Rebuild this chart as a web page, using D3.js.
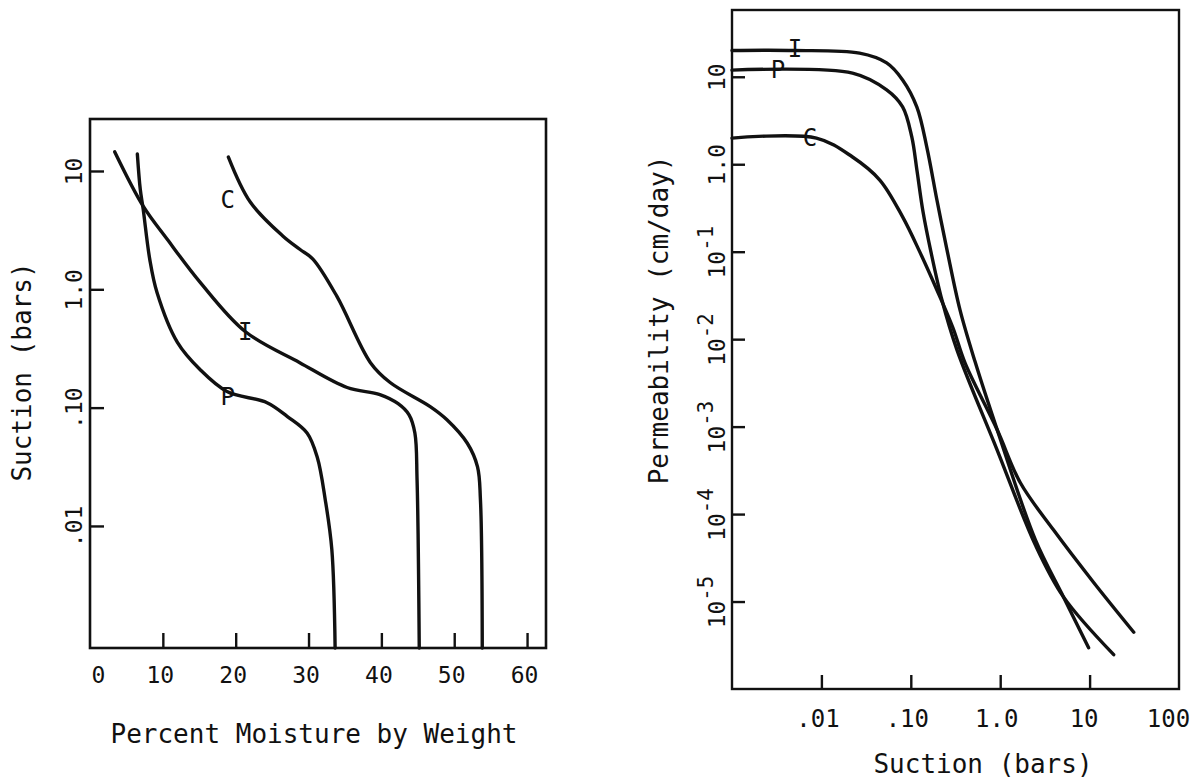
<!DOCTYPE html>
<html><head><meta charset="utf-8">
<script src="https://cdn.jsdelivr.net/npm/d3@7"></script>
<style>
html,body{margin:0;padding:0;background:#fff;}
svg{display:block;}
text{font-family:"DejaVu Sans Mono","Liberation Mono",monospace;fill:#111;}
</style></head><body>
<svg id="chart" width="1197" height="782"></svg>
<script>
// ---------- Left panel data: Suction (bars) vs Percent moisture by weight ----------
const leftXTicks = [0, 10, 20, 30, 40, 50, 60];
const leftXTickLabels = ["0", "10", "20", "30", "40", "50", "60"];
const leftYTicks = [10, 1, 0.1, 0.01];
const leftYTickLabels = ["10", "1.0", ".10", ".01"];

const moistureP = [6.5, 6.9, 7.3, 8.2, 9.2, 12.0, 15.1, 18.8, 24.3, 27.1, 29.8, 31.2, 32.3, 33.2, 33.65];
const suctionP  = [13.9, 7.0, 4.76, 1.8, 0.94, 0.356, 0.21, 0.137, 0.11, 0.084, 0.061, 0.038, 0.0166, 0.0063, 0.00093];

const moistureI = [3.4, 7.3, 10.6, 15.1, 21.3, 28.8, 35.3, 39.8, 42.3, 43.8, 44.6, 44.9, 45.2];
const suctionI  = [14.5, 5.05, 2.65, 1.15, 0.44, 0.24, 0.148, 0.129, 0.108, 0.087, 0.061, 0.0245, 0.00093];

const moistureC = [19.0, 22.0, 26.5, 28.8, 30.6, 33.9, 38.5, 41.2, 46.7, 49.0, 51.8, 53.2, 53.6, 53.85];
const suctionC  = [13.1, 5.46, 2.81, 2.18, 1.8, 0.87, 0.24, 0.163, 0.102, 0.079, 0.05, 0.0316, 0.0166, 0.00093];

const leftLabelNames = ["C", "I", "P"];
const leftLabelMoisture = [18.9, 21.3, 18.9];
const leftLabelSuction = [5.7, 0.436, 0.123];

// ---------- Right panel data: Permeability (cm/day) vs Suction (bars) ----------
const rightXTicks = [0.01, 0.1, 1, 10, 100];
const rightXTickLabels = [".01", ".10", "1.0", "10", "100"];
const rightYTicks = [10, 1, 0.1, 0.01, 0.001, 0.0001, 0.00001];
const rightYTickBase = ["10", "1.0", "10", "10", "10", "10", "10"];
const rightYTickExp = ["", "", "-1", "-2", "-3", "-4", "-5"];

const suctionRI = [0.001, 0.005, 0.0267, 0.0537, 0.081, 0.117, 0.151, 0.196, 0.254, 0.355, 0.524, 0.925, 2.47, 5.1, 9.75];
const permRI    = [20, 20, 18.6, 14.4, 9.2, 4.5, 1.57, 0.39, 0.105, 0.0216, 0.0055, 0.00092, 0.000051, 0.0000113, 0.00000296];

const suctionRP = [0.001, 0.0223, 0.0537, 0.081, 0.1026, 0.117, 0.137, 0.168, 0.223, 0.329, 0.925, 2.47, 5.1, 18.6];
const permRP    = [11.9, 11.0, 7.07, 4.52, 2.05, 0.86, 0.286, 0.0995, 0.028, 0.0075, 0.00054, 0.0000445, 0.0000113, 0.00000247];

const suctionRC = [0.001, 0.0088, 0.0223, 0.045, 0.081, 0.126, 0.196, 0.296, 0.404, 0.925, 1.68, 3.94, 11.1, 31.2];
const permRC    = [1.99, 1.99, 1.21, 0.66, 0.25, 0.0995, 0.0365, 0.0135, 0.00535, 0.00092, 0.000228, 0.000066, 0.0000165, 0.00000445];

const rightLabelNames = ["I", "P", "C"];
const rightLabelSuction = [0.00507, 0.00327, 0.00746];
const rightLabelPerm = [21, 12.0, 2.0];

// ---------- drawing ----------
const ink = "#111";
const svg = d3.select("#chart");
const zip = (a, b) => a.map((v, i) => [v, b[i]]);

// ===== Left panel =====
const L = {left: 90, right: 546, top: 119, bottom: 648};
const xL = d3.scaleLinear().domain([0, 62.6]).range([L.left, L.right]);
const yL = d3.scaleLog().domain([0.00093, 27.5]).range([L.bottom, L.top]);

svg.append("rect").attr("x", L.left).attr("y", L.top)
  .attr("width", L.right - L.left).attr("height", L.bottom - L.top)
  .attr("fill", "none").attr("stroke", ink).attr("stroke-width", 2.6);

const gxL = svg.append("g").attr("transform", `translate(0,${L.bottom})`)
  .call(d3.axisBottom(xL).tickValues(leftXTicks).tickSize(-15)
    .tickFormat((d, i) => leftXTickLabels[i]));
gxL.select(".domain").remove();
gxL.selectAll(".tick line").attr("stroke", ink).attr("stroke-width", 2.4);
gxL.selectAll(".tick").filter(d => d === 0).select("line").remove();
gxL.selectAll("text").attr("y", 35).attr("dy", null).attr("font-size", 23)
  .attr("font-family", null).attr("fill", ink)
  .attr("dx", d => d === 0 ? 8 : -3);

const gyL = svg.append("g").attr("transform", `translate(${L.left},0)`)
  .call(d3.axisLeft(yL).tickValues(leftYTicks).tickSize(-14)
    .tickFormat((d, i) => leftYTickLabels[i]));
gyL.select(".domain").remove();
gyL.selectAll(".tick line").attr("stroke", ink).attr("stroke-width", 2.4);
gyL.selectAll("text").attr("x", null).attr("dy", null).attr("text-anchor", "middle")
  .attr("font-size", 23).attr("font-family", null).attr("fill", ink)
  .attr("transform", "translate(-8,0) rotate(-90)");

const lineL = d3.line().x(d => xL(d[0])).y(d => yL(d[1])).curve(d3.curveCatmullRom.alpha(0.5));
[[moistureP, suctionP], [moistureI, suctionI], [moistureC, suctionC]].forEach(([a, b]) => {
  svg.append("path").datum(zip(a, b)).attr("d", lineL)
    .attr("fill", "none").attr("stroke", ink).attr("stroke-width", 3.4)
    .attr("stroke-linecap", "round").attr("stroke-linejoin", "round");
});

svg.append("g").selectAll("text").data(leftLabelNames).join("text")
  .attr("x", (d, i) => xL(leftLabelMoisture[i]))
  .attr("y", (d, i) => yL(leftLabelSuction[i]))
  .attr("text-anchor", "middle").attr("dominant-baseline", "central")
  .attr("font-size", 24).text(d => d);

svg.append("text").attr("transform", "translate(31,372) rotate(-90)")
  .attr("text-anchor", "middle").attr("font-size", 26).text("Suction (bars)");
svg.append("text").attr("x", 314).attr("y", 743)
  .attr("text-anchor", "middle").attr("font-size", 26).text("Percent Moisture by Weight");

// ===== Right panel =====
const R = {left: 732, right: 1179, top: 10, bottom: 689};
const xR = d3.scaleLog().domain([0.001, 100]).range([R.left, R.right]);
const yR = d3.scaleLog().domain([1e-6, 58]).range([R.bottom, R.top]);

svg.append("rect").attr("x", R.left).attr("y", R.top)
  .attr("width", R.right - R.left).attr("height", R.bottom - R.top)
  .attr("fill", "none").attr("stroke", ink).attr("stroke-width", 2.4);

const gxR = svg.append("g").attr("transform", `translate(0,${R.bottom})`)
  .call(d3.axisBottom(xR).tickValues(rightXTicks).tickSize(-14)
    .tickFormat((d, i) => rightXTickLabels[i]));
gxR.select(".domain").remove();
gxR.selectAll(".tick line").attr("stroke", ink).attr("stroke-width", 2.4);
gxR.selectAll(".tick").filter(d => d === 100).select("line").remove();
gxR.selectAll("text").attr("y", 38).attr("dy", null).attr("font-size", 24)
  .attr("font-family", null).attr("fill", ink)
  .attr("dx", d => d === 100 ? -11 : (d === 10 ? -6 : -4));

const gyR = svg.append("g").attr("transform", `translate(${R.left},0)`)
  .call(d3.axisLeft(yR).tickValues(rightYTicks).tickSize(-13).tickFormat(() => ""));
gyR.select(".domain").remove();
gyR.selectAll(".tick line").attr("stroke", ink).attr("stroke-width", 2.4);
gyR.selectAll(".tick text").each(function(d, i) {
  const t = d3.select(this);
  t.attr("x", null).attr("dy", null).attr("text-anchor", "middle")
    .attr("font-size", 23).attr("font-family", null).attr("fill", ink)
    .attr("transform", "translate(-7,0) rotate(-90)").text(null);
  t.append("tspan").text(rightYTickBase[i]);
  if (rightYTickExp[i]) {
    t.append("tspan").attr("dy", "-0.6em").attr("font-size", "0.9em").text(rightYTickExp[i]);
  }
});

const lineR = d3.line().x(d => xR(d[0])).y(d => yR(d[1])).curve(d3.curveCatmullRom.alpha(0.5));
[[suctionRI, permRI], [suctionRP, permRP], [suctionRC, permRC]].forEach(([a, b]) => {
  svg.append("path").datum(zip(a, b)).attr("d", lineR)
    .attr("fill", "none").attr("stroke", ink).attr("stroke-width", 3.4)
    .attr("stroke-linecap", "round").attr("stroke-linejoin", "round");
});

svg.append("g").selectAll("text").data(rightLabelNames).join("text")
  .attr("x", (d, i) => xR(rightLabelSuction[i]))
  .attr("y", (d, i) => yR(rightLabelPerm[i]))
  .attr("text-anchor", "middle").attr("dominant-baseline", "central")
  .attr("font-size", 24).text(d => d);

svg.append("text").attr("transform", "translate(668,320) rotate(-90)")
  .attr("text-anchor", "middle").attr("font-size", 26).text("Permeability (cm/day)");
svg.append("text").attr("x", 983).attr("y", 773)
  .attr("text-anchor", "middle").attr("font-size", 26).text("Suction (bars)");
</script>
</body></html>
